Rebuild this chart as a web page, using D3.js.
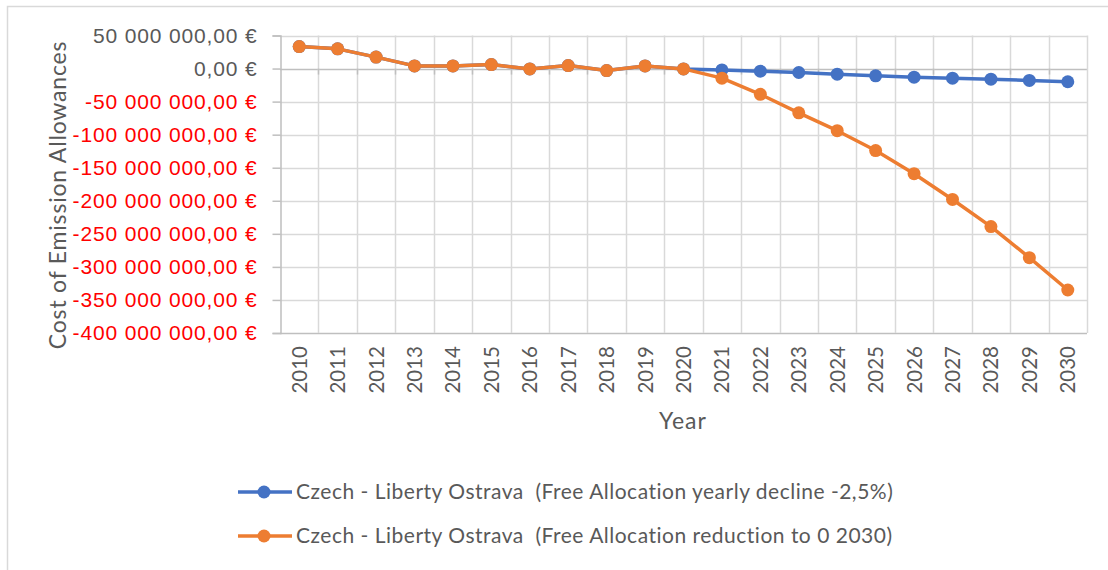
<!DOCTYPE html>
<html>
<head>
<meta charset="utf-8">
<script src="https://cdn.jsdelivr.net/npm/d3@7"></script>
<style>
  body { margin: 0; background: #fff; }
  svg { display: block; font-family: Lato, "Open Sans", sans-serif; }
  text { white-space: pre; }
</style>
</head>
<body>
<svg width="1108" height="570"></svg>
<script>
const years = ['2010','2011','2012','2013','2014','2015','2016','2017','2018','2019','2020',
               '2021','2022','2023','2024','2025','2026','2027','2028','2029','2030'];

// free allocation yearly decline -2,5%
const declineValues = [33.3e6, 29.8e6, 17.3e6, 4e6, 4e6, 6e6, -0.5e6, 4.5e6, -3e6, 4e6, -0.5e6,
                       -2e6, -4e6, -6e6, -8.5e6, -11e6, -13e6, -14.5e6, -16e6, -18e6, -20e6];
// free allocation reduction to 0 2030
const reductionValues = [33.3e6, 29.8e6, 17.3e6, 4e6, 4e6, 6e6, -0.5e6, 4.5e6, -3e6, 4e6, -0.5e6,
                         -14.5e6, -39e6, -67e6, -94e6, -124e6, -159e6, -198e6, -239e6, -286e6, -335e6];

const yTicks = [50e6, 0, -50e6, -100e6, -150e6, -200e6, -250e6, -300e6, -350e6, -400e6];

const seriesNames = [
    'Czech - Liberty Ostrava  (Free Allocation yearly decline -2,5%)',
    'Czech - Liberty Ostrava  (Free Allocation reduction to 0 2030)'
];
const colors = ['#4472c4', '#ed7d31'];

const svg = d3.select('svg');

const locale = d3.formatLocale({decimal: ',', thousands: '\u00a0', grouping: [3], currency: ['', '\u00a0€'], minus: '-'});
const fmt = locale.format('$,.2f');

const x = d3.scaleBand().domain(years).range([280, 1087]);
const y = d3.scaleLinear().domain([-400e6, 50e6]).range([333, 35.5]);

// chart border (only top/left visible in crop)
svg.append('path').attr('d', 'M7.5,570V6.5H1108')
    .attr('fill', 'none').attr('stroke', '#d9d9d9').attr('stroke-width', 1.5);

// horizontal grid
svg.append('g').selectAll('line').data(yTicks).join('line')
    .attr('x1', 280).attr('x2', 1087)
    .attr('y1', d => Math.round(y(d)) + 0.5).attr('y2', d => Math.round(y(d)) + 0.5)
    .attr('stroke', d => d === 0 || d === -400e6 ? '#bfbfbf' : '#d9d9d9').attr('stroke-width', 1.5);

// vertical grid at category boundaries
const bounds = years.map(d => x(d)).concat([x.range()[1]]);
svg.append('g').selectAll('line').data(bounds.slice(1)).join('line')
    .attr('x1', d => Math.round(d) + 0.5).attr('x2', d => Math.round(d) + 0.5)
    .attr('y1', y(50e6)).attr('y2', y(-400e6))
    .attr('stroke', '#d9d9d9').attr('stroke-width', 1.5);

// tick marks under zero line
svg.append('g').selectAll('line').data(bounds.slice(1, -1)).join('line')
    .attr('x1', d => Math.round(d) + 0.5).attr('x2', d => Math.round(d) + 0.5)
    .attr('y1', y(0)).attr('y2', y(0) + 6)
    .attr('stroke', '#bfbfbf').attr('stroke-width', 1.5);

// y axis
const yAxis = svg.append('g').attr('transform', 'translate(280.5,0)')
    .call(d3.axisLeft(y).tickValues(yTicks).tickFormat(fmt).tickSize(8).tickPadding(15));
yAxis.select('.domain').attr('stroke', '#bfbfbf').attr('stroke-width', 1.5);
yAxis.selectAll('.tick line').attr('stroke', '#bfbfbf').attr('stroke-width', 1.5);
yAxis.selectAll('.tick text')
    .attr('fill', d => d < 0 ? '#ff0000' : '#595959')
    .style('font-size', '21px').style('letter-spacing', '0.85px');

// x labels
svg.append('g').selectAll('text').data(years).join('text')
    .attr('transform', d => `translate(${x(d) + x.bandwidth() / 2 + 7.5},${y(-400e6) + 13}) rotate(-90)`)
    .attr('text-anchor', 'end')
    .attr('fill', '#595959').style('font-size', '20.5px')
    .text(d => d);

// axis titles
svg.append('text').attr('x', 683).attr('y', 429).attr('text-anchor', 'middle')
    .attr('fill', '#595959').style('font-size', '23px').style('letter-spacing', '1px').text('Year');
svg.append('text').attr('transform', 'translate(66,195) rotate(-90)').attr('text-anchor', 'middle')
    .attr('fill', '#595959').style('font-size', '23px').style('letter-spacing', '0.8px')
    .text('Cost of Emission Allowances');

// series
const series = [declineValues, reductionValues];
const line = d3.line().x((d, i) => x(years[i]) + x.bandwidth() / 2).y(d => y(d));

series.forEach((vals, s) => {
    const g = svg.append('g');
    g.append('path').datum(vals).attr('d', line)
        .attr('fill', 'none').attr('stroke', colors[s]).attr('stroke-width', 3.5)
        .attr('stroke-linejoin', 'round');
    g.selectAll('circle').data(vals).join('circle')
        .attr('cx', (d, i) => x(years[i]) + x.bandwidth() / 2)
        .attr('cy', d => y(d))
        .attr('r', 6.5).attr('fill', colors[s]);
});

// legend
const legend = svg.append('g').selectAll('g').data(seriesNames).join('g')
    .attr('transform', (d, i) => `translate(238,${492 + i * 44})`);
legend.append('line').attr('x1', 0).attr('x2', 54)
    .attr('stroke', (d, i) => colors[i]).attr('stroke-width', 3.5);
legend.append('circle').attr('cx', 26).attr('r', 6.5).attr('fill', (d, i) => colors[i]);
legend.append('text').attr('x', 58).attr('dy', '0.35em')
    .attr('fill', '#595959').style('font-size', '21px').style('letter-spacing', '0.5px').text(d => d);
</script>
</body>
</html>
